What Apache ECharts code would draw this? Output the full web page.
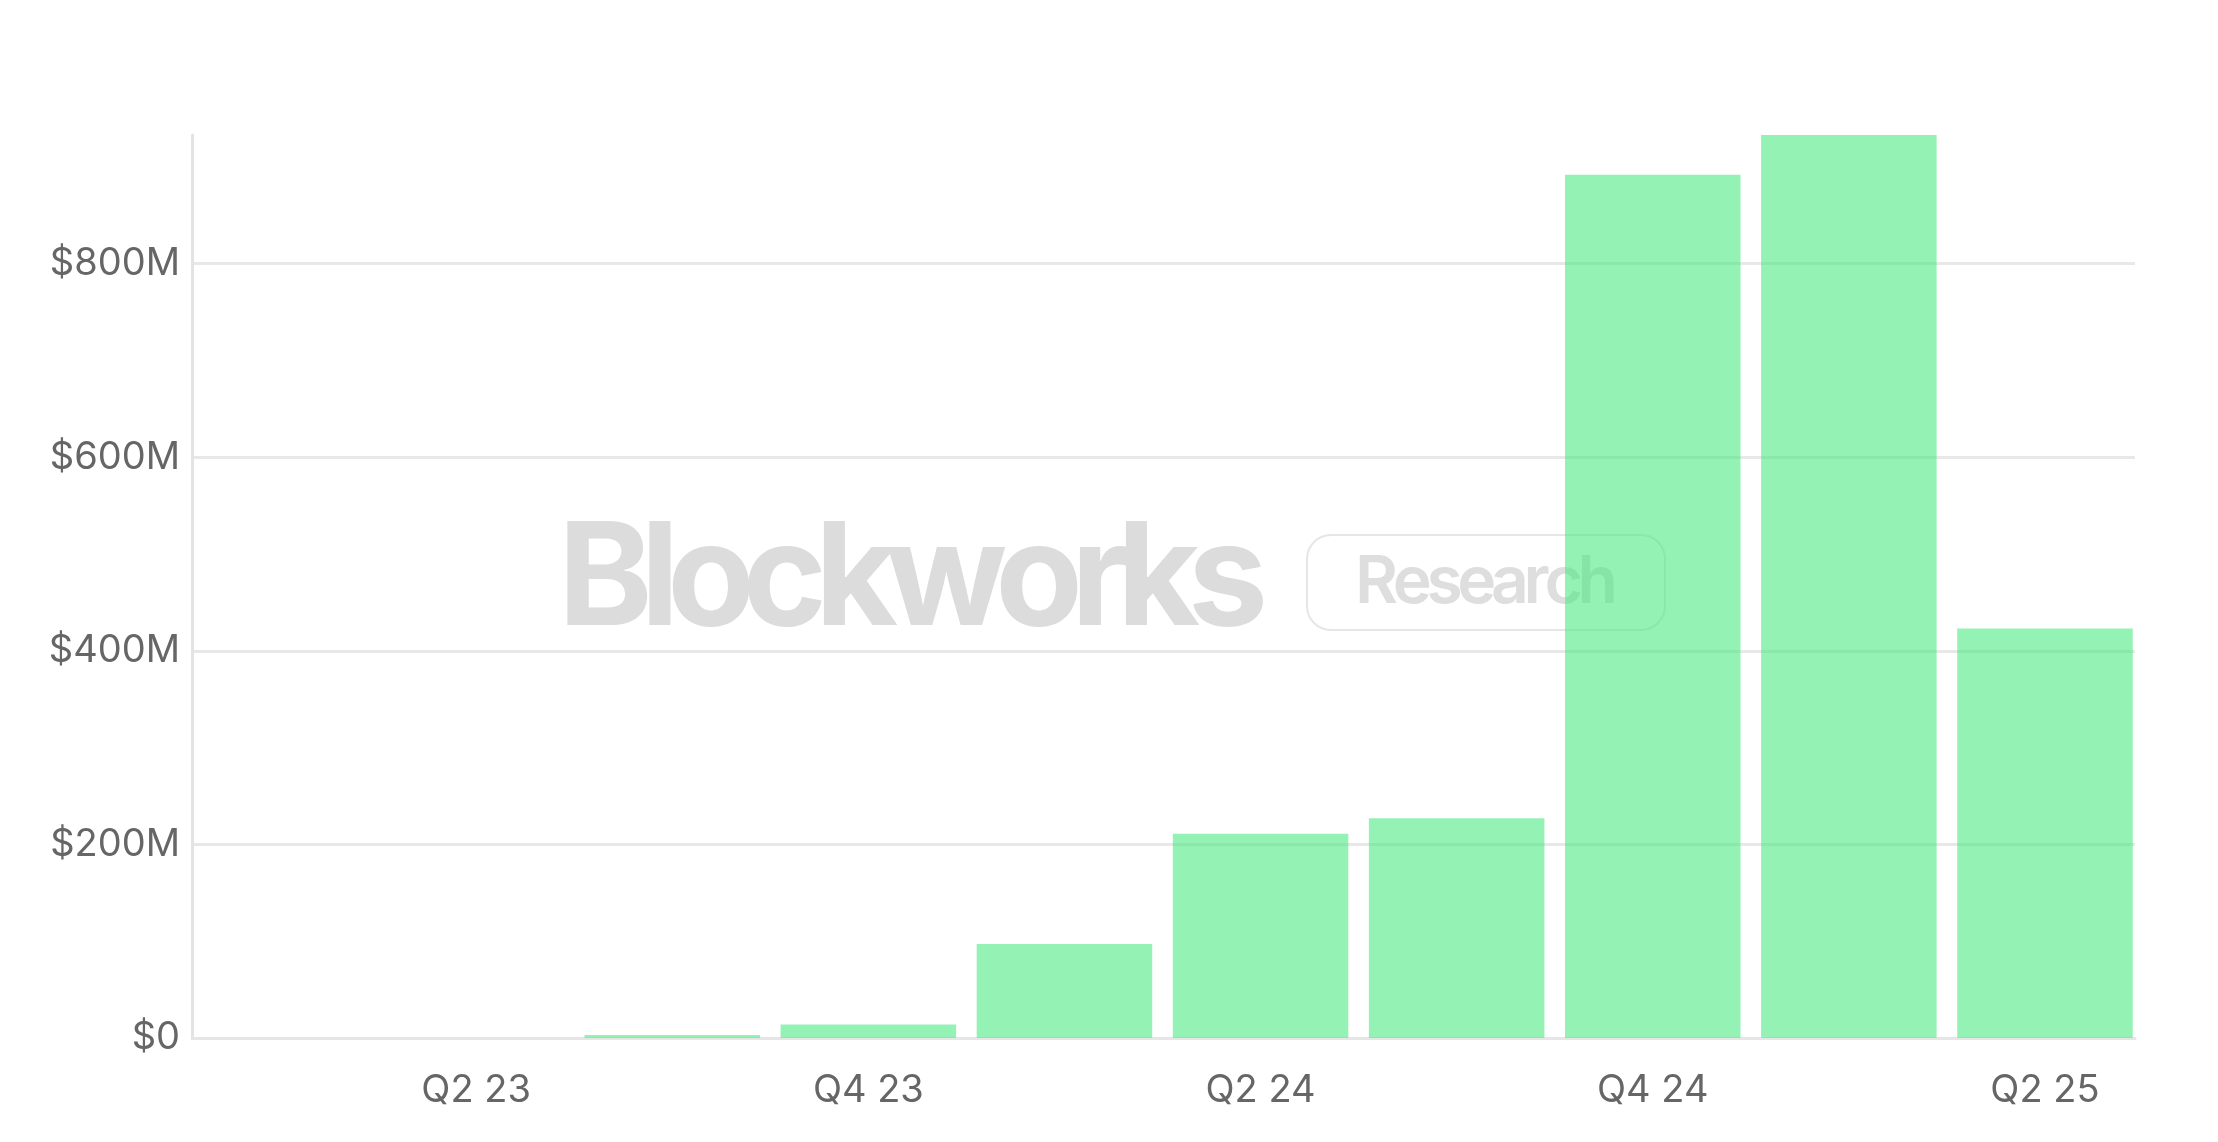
<!DOCTYPE html>
<html>
<head>
<meta charset="utf-8">
<script src="https://cdn.jsdelivr.net/npm/echarts@6/dist/echarts.min.js"></script>
<style>
  html, body { margin: 0; padding: 0; background: #ffffff; }
  #chart { width: 2218px; height: 1142px; }
</style>
</head>
<body>
<div id="chart"></div>
<script>
// ---- data (values in millions of USD) ----
const categories = ['Q1 23', 'Q2 23', 'Q3 23', 'Q4 23', 'Q1 24', 'Q2 24', 'Q3 24', 'Q4 24', 'Q1 25', 'Q2 25'];
const values = [0, 0, 3, 14, 97, 211, 227, 892, 933, 423];
const yTicks = [0, 200, 400, 600, 800];
const yMax = Math.max.apply(null, values);

// ---- watermark helpers: lay out characters with tight tracking ----
const measureCtx = document.createElement('canvas').getContext('2d');
function trackedText(text, font, x0, y, targetWidth, fill) {
  measureCtx.font = font;
  const chars = text.split('');
  const adv = chars.map(ch => measureCtx.measureText(ch).width);
  const natural = adv.reduce((a, b) => a + b, 0);
  const tracking = (targetWidth - natural) / (chars.length - 1);
  let x = x0;
  return chars.map((ch, i) => {
    const el = {
      type: 'text', z: 1, x: x, y: y, silent: true,
      style: { text: ch, font: font, fill: fill, align: 'left', verticalAlign: 'middle' }
    };
    x += adv[i] + tracking;
    return el;
  });
}

const wm1 = trackedText('Blockworks', '700 143px Inter', 558, 582, 710, '#dcdcdc');
const wm2 = trackedText('Research', '600 66px Inter', 1355, 583, 263, '#dedede');

const chart = echarts.init(document.getElementById('chart'), null, { renderer: 'canvas' });
chart.setOption({
  backgroundColor: '#ffffff',
  animation: false,
  grid: [
    { left: 192, right: 83, top: 135, bottom: 104, containLabel: false, outerBoundsMode: 'none' },
    { left: 182, right: 75, top: 135, bottom: 104, containLabel: false, outerBoundsMode: 'none' }
  ],
  xAxis: [
    {
      type: 'category', gridIndex: 0, data: categories,
      axisLine: { show: true, lineStyle: { color: '#e6e6e6', width: 3 } },
      axisTick: { show: false },
      axisLabel: { show: false },
      splitLine: { show: false }
    },
    {
      type: 'category', gridIndex: 1, data: categories,
      axisLine: { show: false },
      axisTick: { show: false },
      axisLabel: {
        interval: (idx) => idx % 2 === 1,
        color: '#666666',
        fontFamily: 'Inter',
        fontSize: 38,
        margin: 34
      },
      splitLine: { show: false }
    }
  ],
  yAxis: [
    {
      type: 'value', gridIndex: 0,
      min: 0, max: yMax, interval: 200,
      axisLine: { show: true, lineStyle: { color: '#e3e3e3', width: 3 } },
      axisTick: { show: false },
      axisLabel: {
        color: '#666666',
        fontFamily: 'Inter',
        fontSize: 38,
        margin: 12,
        showMaxLabel: false,
        formatter: (v) => (yTicks.indexOf(v) >= 0 ? '$' + v + (v === 0 ? '' : 'M') : '')
      },
      splitLine: { show: true, showMaxLine: false, showMinLine: false, lineStyle: { color: '#e8e8e8', width: 3 } }
    },
    {
      type: 'value', gridIndex: 1,
      min: 0, max: yMax,
      show: false,
      splitLine: { show: false }
    }
  ],
  graphic: [
    ...wm1,
    {
      type: 'rect', z: 1, silent: true,
      shape: { x: 1307, y: 535, width: 358, height: 95, r: 24 },
      style: { fill: 'rgba(0,0,0,0)', stroke: '#e6e6e6', lineWidth: 2 }
    },
    ...wm2
  ],
  series: [{
    type: 'bar',
    xAxisIndex: 1,
    yAxisIndex: 1,
    data: values,
    z: 3,
    barCategoryGap: '10.5%',
    itemStyle: { color: 'rgba(70, 232, 128, 0.58)' }
  }]
});
</script>
</body>
</html>
